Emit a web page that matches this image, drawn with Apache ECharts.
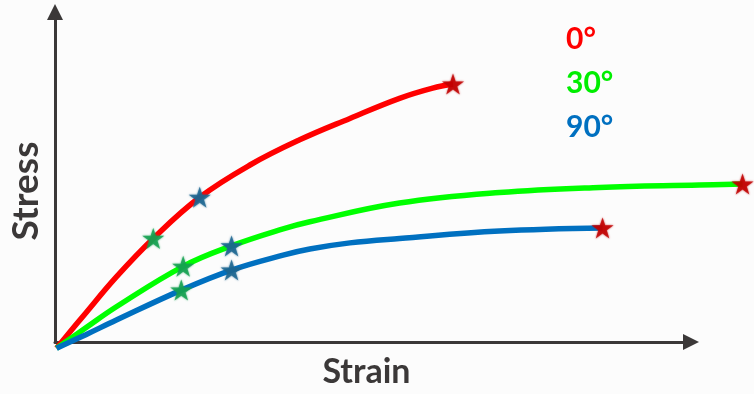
<!DOCTYPE html>
<html>
<head>
<meta charset="utf-8">
<script src="https://cdn.jsdelivr.net/npm/echarts@6/dist/echarts.min.js"></script>
<style>
  html, body { margin: 0; padding: 0; background: #fcfcfc; }
  #chart { width: 754px; height: 394px; }
</style>
</head>
<body>
<div id="chart"></div>
<script>
// Stress–strain curves for three fibre orientations (schematic units, 0–10)
const orientations = ['0°', '30°', '90°'];
const lineColors = ['#ff0000', '#00ff00', '#0070c0'];
const labelColors = ['#ff0000', '#00ee00', '#0070c0'];

// [strain, stress] points along each curve
const curve0 = [
  [0.04, 0.11], [0.50, 1.15], [0.98, 2.21], [1.56, 3.34], [2.29, 4.55],
  [3.08, 5.50], [3.86, 6.24], [4.65, 6.87], [5.43, 7.46], [5.95, 7.76],
  [6.27, 7.88]
];
const curve30 = [
  [0.04, 0.11], [0.50, 0.71], [0.98, 1.33], [2.03, 2.52], [2.79, 3.12],
  [3.60, 3.62], [4.02, 3.83], [5.43, 4.38], [7.00, 4.69], [8.57, 4.84],
  [10.14, 4.91], [10.82, 4.94]
];
const curve90 = [
  [0.04, 0.11], [0.50, 0.51], [0.98, 0.94], [2.00, 1.82], [2.79, 2.41],
  [3.60, 2.85], [4.02, 3.03], [4.65, 3.21], [5.43, 3.34], [7.00, 3.56],
  [8.62, 3.65]
];
const curves = [curve0, curve30, curve90];

// Which point of each curve carries the first / second marker; last point is failure
const firstMarkIndex = 3;
const secondMarkIndex = 4;

// Axis frame: arrowed axes span 0–10; the plotting layer shares its scale
// but runs further right so the 30° curve can pass the arrow tip.
const frameLeft = 54, frameRight = 63, frameTop = 12, frameBottom = 42;
const chartWidth = 754;
const axisMax = 10;
const plotMax = 11;
const pxPerStrain = (chartWidth - frameLeft - frameRight) / axisMax;

const axisColor = '#3b3838';
const starPath = 'path://M12,0 L14.9,8.6 L24,8.6 L16.6,14 L19.4,22.8 L12,17.4 L4.6,22.8 L7.4,14 L0,8.6 L9.1,8.6 Z';

function starSeries(points, color) {
  return {
    type: 'scatter',
    xAxisIndex: 1, yAxisIndex: 1,
    data: points,
    symbol: starPath,
    symbolSize: [22, 21],
    clip: false,
    z: 5,
    itemStyle: { color: color, shadowColor: color, shadowBlur: 2 },
    silent: true
  };
}

const lineSeries = curves.map((c, i) => ({
  name: orientations[i],
  type: 'line',
  xAxisIndex: 1, yAxisIndex: 1,
  data: c,
  smooth: 0.4,
  showSymbol: false,
  clip: false,
  lineStyle: { color: lineColors[i], width: 5.5 },
  z: 2 + i * 0.1,
  silent: true
}));

const hiddenAxis = {
  type: 'value', min: 0, show: false,
  axisLine: { show: false }, axisTick: { show: false },
  axisLabel: { show: false }, splitLine: { show: false }
};

const option = {
  backgroundColor: '#fcfcfc',
  animation: false,
  grid: [
    { left: frameLeft, right: frameRight, top: frameTop, bottom: frameBottom },
    { left: frameLeft, width: pxPerStrain * plotMax, top: frameTop, bottom: frameBottom }
  ],
  xAxis: [
    {
      type: 'value', min: 0, max: axisMax, gridIndex: 0,
      axisLine: {
        show: true, symbol: ['none', 'triangle'], symbolSize: [16, 16],
        lineStyle: { color: axisColor, width: 3 }
      },
      axisTick: { show: false }, axisLabel: { show: false }, splitLine: { show: false },
      name: 'Strain', nameLocation: 'middle', nameGap: 13,
      nameTextStyle: {
        color: axisColor, fontFamily: 'Lato', fontWeight: 'bold', fontSize: 34,
        padding: [0, 13, 0, 0]
      }
    },
    Object.assign({}, hiddenAxis, { gridIndex: 1, max: plotMax })
  ],
  yAxis: [
    {
      type: 'value', min: 0, max: axisMax, gridIndex: 0,
      axisLine: {
        show: true, symbol: ['none', 'triangle'], symbolSize: [16, 16],
        lineStyle: { color: axisColor, width: 3 }
      },
      axisTick: { show: false }, axisLabel: { show: false }, splitLine: { show: false },
      name: 'Stress', nameLocation: 'middle', nameGap: 10,
      nameTextStyle: {
        color: axisColor, fontFamily: 'Lato', fontWeight: 'bold', fontSize: 37,
        padding: [0, 28, 0, 0]
      }
    },
    Object.assign({}, hiddenAxis, { gridIndex: 1, max: axisMax })
  ],
  graphic: orientations.map((t, i) => ({
    type: 'text',
    left: 566,
    top: 24 + i * 44,
    style: {
      text: t, fill: labelColors[i],
      font: 'bold 30px Lato'
    }
  })),
  series: [
    ...lineSeries,
    starSeries(curves.map(c => c[firstMarkIndex]), '#14a050'),
    starSeries(curves.map(c => c[secondMarkIndex]), '#1b6590'),
    starSeries(curves.map(c => c[c.length - 1]), '#c00000')
  ]
};

const chart = echarts.init(document.getElementById('chart'), null, { renderer: 'canvas' });
chart.setOption(option);
</script>
</body>
</html>
